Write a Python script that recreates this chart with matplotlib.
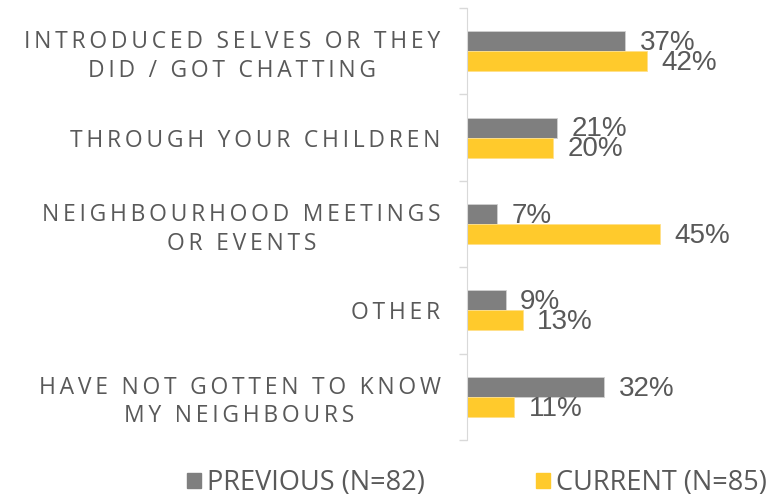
import matplotlib
matplotlib.use("Agg")
import matplotlib.pyplot as plt
from matplotlib.patches import Patch

categories = ["INTRODUCED SELVES OR THEY\nDID / GOT CHATTING",
              "THROUGH YOUR CHILDREN",
              "NEIGHBOURHOOD MEETINGS\nOR EVENTS",
              "OTHER",
              "HAVE NOT GOTTEN TO KNOW\nMY NEIGHBOURS"]
previous = [37, 21, 7, 9, 32]
current = [42, 20, 45, 13, 11]
series_names = ["PREVIOUS (N=82)", "CURRENT (N=85)"]

colors = ["#7f7f7f", "#ffca2c"]
text_col = "#595959"


def spaced(s):
    # imitate the wide letter spacing of the original labels
    return "\n".join("\u2009".join(line) for line in s.split("\n"))


fig = plt.figure(figsize=(7.7, 5), dpi=100)
ax = fig.add_axes([0.6065, 0.12, 0.389, 0.864])

pos = list(range(len(categories)))
h = 0.232
ax.barh([p - h / 2 for p in pos], previous, height=h, color=colors[0],
        edgecolor="#d0d0d0", lw=0.6)
ax.barh([p + h / 2 for p in pos], current, height=h, color=colors[1],
        edgecolor="#ffe08a", lw=0.6)

for p, v in zip(pos, previous):
    ax.text(v + 3.4, p - h / 2 + 0.02, f"{v}%", va="center", ha="left",
            fontsize=20, color=text_col, family="Liberation Sans")
for p, v in zip(pos, current):
    ax.text(v + 3.4, p + h / 2 + 0.02, f"{v}%", va="center", ha="left",
            fontsize=20, color=text_col, family="Liberation Sans")

ax.set_xlim(0, 70)
ax.set_ylim(len(categories) - 0.5, -0.5)
ax.set_xticks([])
ax.set_yticks([p - 0.5 for p in pos] + [len(categories) - 0.5])
ax.set_yticklabels([])
ax.tick_params(axis="y", which="major", length=6, color="#d9d9d9", width=1)
ax.set_yticks(pos, minor=True)
ax.set_yticklabels([spaced(c) for c in categories], minor=True)
ax.tick_params(axis="y", which="minor", length=0, pad=19)
for lbl in ax.get_yticklabels(minor=True):
    lbl.set_multialignment("center")
    lbl.set_family(["Open Sans", "DejaVu Sans"])
    lbl.set_fontsize(16.5)
    lbl.set_color(text_col)
    lbl.set_linespacing(1.25)

for s in ["top", "right", "bottom"]:
    ax.spines[s].set_visible(False)
ax.spines["left"].set_color("#d9d9d9")

handles = [Patch(color=colors[0]), Patch(color=colors[1])]
leg = fig.legend(handles, series_names, loc="center", bbox_to_anchor=(0.619, 0.034),
                 ncol=2, frameon=False, handlelength=0.52, handleheight=0.52,
                 handletextpad=0.22, columnspacing=4.1,
                 prop={"family": "Open Sans", "size": 19.5})
for t in leg.get_texts():
    t.set_color(text_col)

fig.savefig("out.png", dpi=100)
